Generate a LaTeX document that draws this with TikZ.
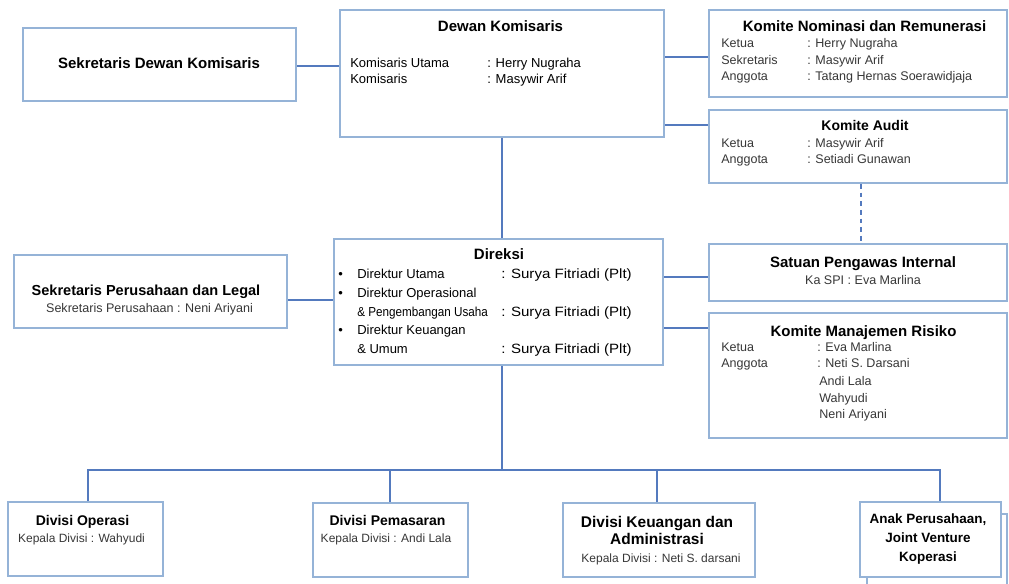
\documentclass[tikz,border=0pt]{standalone}
\usepackage{fontspec}
\usepackage{graphicx}
\setmainfont{Liberation Sans}
\usetikzlibrary{fit}
\definecolor{boxc}{RGB}{149,179,215}
\definecolor{connc}{RGB}{84,122,190}
\definecolor{txtg}{RGB}{55,55,55}
\newcommand{\myfs}[1]{\fontsize{#1}{#1}\selectfont}
\newcommand{\plt}{\scalebox{1.12}[1]{: Surya Fitriadi (Plt)}}
\begin{document}
\begin{tikzpicture}[x=0.75pt,y=-0.75pt,
  box/.style={draw=boxc,line width=1.5pt,inner sep=0pt,fill=white},
  conn/.style={draw=connc,line width=1pt},
  dashconn/.style={conn,dash pattern=on 3.5pt off 3pt},
  tb15/.style={inner sep=0pt,anchor=base,font=\bfseries\myfs{11.25}},
  tb155/.style={inner sep=0pt,anchor=base,font=\bfseries\myfs{11.6}},
  tb145/.style={inner sep=0pt,anchor=base,font=\bfseries\myfs{10.9}},
  tb14/.style={inner sep=0pt,anchor=base,font=\bfseries\myfs{10.5}},
  tb135/.style={inner sep=0pt,anchor=base,font=\bfseries\myfs{10.1}},
  r13/.style={inner sep=0pt,anchor=base west,font=\myfs{9.75}},
  rd/.style={inner sep=0pt,anchor=base west,font=\myfs{9.75}},
  rdv/.style={inner sep=0pt,anchor=base west,font=\myfs{10.1}},
  rk/.style={inner sep=0pt,anchor=base west,font=\myfs{9.4},text=txtg},
  sub/.style={inner sep=0pt,anchor=base,font=\myfs{9.4},text=txtg},
  sub12/.style={inner sep=0pt,anchor=base,font=\myfs{9},text=txtg}]
\useasboundingbox[fill=white] (0,0) rectangle (1009,584);
\clip (0,0) rectangle (1009,584);
% boxes
\node[box,fit={(23,28)(296,101)}] (sdk) {};
\node[box,fit={(340,10)(664,137)}] (dk) {};
\node[box,fit={(709,10)(1007,97)}] (knr) {};
\node[box,fit={(709,110)(1007,183)}] (ka) {};
\node[box,fit={(334,239)(663,365)}] (dir) {};
\node[box,fit={(14,255)(287,328)}] (spl) {};
\node[box,fit={(709,244)(1007,301)}] (spi) {};
\node[box,fit={(709,313)(1007,438)}] (kmr) {};
\node[box,fit={(8,502)(163,576)}] (dop) {};
\node[box,fit={(313,503)(468,577)}] (dpm) {};
\node[box,fit={(563,503)(755,577)}] (dku) {};
\node[box,fit={(867,514)(1007,600)}] (apb) {};
\node[box,fit={(860,502)(1001,577)}] (apf) {};
% connectors
\coordinate (vx) at (502,0);
\coordinate (dx) at (861,0);
\coordinate (bus) at (502,470);
\draw[conn] (sdk.east |- 0,66) -- (dk.west |- 0,66);
\draw[conn] (dk.east |- 0,57) -- (knr.west |- 0,57);
\draw[conn] (dk.east |- 0,125) -- (ka.west |- 0,125);
\draw[conn] (vx |- dk.south) -- (vx |- dir.north);
\draw[dashconn] (dx |- ka.south) -- (dx |- spi.north);
\draw[conn] (spl.east |- 0,300) -- (dir.west |- 0,300);
\draw[conn] (dir.east |- 0,277) -- (spi.west |- 0,277);
\draw[conn] (dir.east |- 0,328) -- (kmr.west |- 0,328);
\draw[conn] (vx |- dir.south) -- (bus);
\draw[conn] (88,0 |- dop.north) |- (bus);
\draw[conn] (940,0 |- apf.north) |- (bus);
\draw[conn] (390,0 |- dpm.north) -- (390,470);
\draw[conn] (657,0 |- dku.north) -- (657,470);
% texts
\node[tb15] (sdkt) at (159,69) {Sekretaris Dewan Komisaris};
\node[tb15] (dkt) at (500.5,31.4) {Dewan Komisaris};
\node[r13] (dk1) at (350,67.6) {Komisaris Utama};
\node[r13] (dk1v) at (487,67.6) {: Herry Nugraha};
\node[r13] (dk2) at (350,83.6) {Komisaris};
\node[r13] (dk2v) at (487,83.6) {: Masywir Arif};
\node[tb15] (knrt) at (864.5,31.7) {Komite Nominasi dan Remunerasi};
\node[rk] (kn1) at (721,47.8) {Ketua};
\node[rk] (kn1v) at (807,47.8) {: Herry Nugraha};
\node[rk] (kn2) at (721,64.3) {Sekretaris};
\node[rk] (kn2v) at (807,64.3) {: Masywir Arif};
\node[rk] (kn3) at (721,80.3) {Anggota};
\node[rk] (kn3v) at (807,80.3) {: Tatang Hernas Soerawidjaja};
\node[tb14] (kat) at (865,131) {Komite Audit};
\node[rk] (ka1) at (721,148) {Ketua};
\node[rk] (ka1v) at (807,148) {: Masywir Arif};
\node[rk] (ka2) at (721,164) {Anggota};
\node[rk] (ka2v) at (807,164) {: Setiadi Gunawan};
\node[tb15] (dirt) at (499,259.4) {Direksi};
\node[rd] (b1) at (338,279) {•};
\node[rd] (d1) at (357,279) {Direktur Utama};
\node[rdv] (d1v) at (501,279) {\plt};
\node[rd] (b2) at (338,297.9) {•};
\node[rd] (d2) at (357,297.9) {Direktur Operasional};
\node[rd] (d3) at (357,316.2) {\scalebox{0.9}[1]{\& Pengembangan Usaha}};
\node[rdv] (d3v) at (501,316.2) {\plt};
\node[rd] (b3) at (338,334.8) {•};
\node[rd] (d4) at (357,334.8) {Direktur Keuangan};
\node[rd] (d5) at (357,353.8) {\& Umum};
\node[rdv] (d5v) at (501,353.8) {\plt};
\node[tb145] (splt) at (146,295.7) {Sekretaris Perusahaan dan Legal};
\node[sub] (spls) at (149.5,312.3) {Sekretaris Perusahaan : Neni Ariyani};
\node[tb15] (spit) at (863,267.5) {Satuan Pengawas Internal};
\node[sub] (spis) at (863,285) {Ka SPI : Eva Marlina};
\node[tb15] (kmrt) at (863.5,336) {Komite Manajemen Risiko};
\node[rk] (km1) at (721,351.2) {Ketua};
\node[rk] (km1v) at (817,351.2) {: Eva Marlina};
\node[rk] (km2) at (721,367.8) {Anggota};
\node[rk] (km2v) at (817,367.8) {: Neti S. Darsani};
\node[rk] (km3) at (819,385.5) {Andi Lala};
\node[rk] (km4) at (819,402) {Wahyudi};
\node[rk] (km5) at (819,418.5) {Neni Ariyani};
\node[tb14] (dopt) at (82.5,525.3) {Divisi Operasi};
\node[sub12] (dops) at (81.5,542) {Kepala Divisi : Wahyudi};
\node[tb14] (dpmt) at (387.5,525.3) {Divisi Pemasaran};
\node[sub12] (dpms) at (386,542) {Kepala Divisi : Andi Lala};
\node[tb155] (dkt1) at (657,527.5) {Divisi Keuangan dan};
\node[tb155] (dkt2) at (657,544.7) {Administrasi};
\node[sub12] (dkus) at (661,562.3) {Kepala Divisi : Neti S. darsani};
\node[tb135] (ap1) at (928,523) {Anak Perusahaan,};
\node[tb135] (ap2) at (928,542.5) {Joint Venture};
\node[tb135] (ap3) at (928,561.5) {Koperasi};
\end{tikzpicture}
\end{document}
